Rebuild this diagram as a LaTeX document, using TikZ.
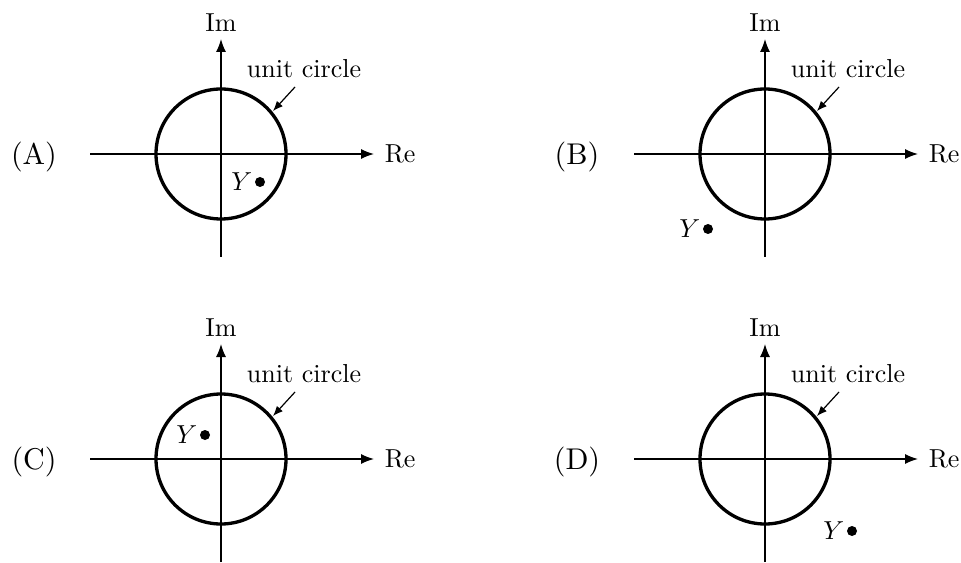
\RequirePackage{fix-cm}
\documentclass[tikz,border=0pt]{standalone}
\usepackage{fontspec}
\usetikzlibrary{arrows.meta,positioning}

\begin{document}
\begin{tikzpicture}[x=0.75pt,y=0.75pt,yscale=-1,xscale=1,
  lbl/.style={inner sep=0.5pt,font=\fontsize{10}{12}\selectfont,scale=1.95},
  plbl/.style={inner sep=0.5pt,font=\fontsize{10}{12}\selectfont,scale=2.25},
  axis/.style={line width=1pt,-{Latex[length=9.75pt,width=7.5pt]}},
  ptr/.style={line width=0.9pt,-{Latex[length=7.5pt,width=6pt]}},
  ucirc/.style={line width=2.5pt},
  ydot/.style={circle,fill,inner sep=0pt,minimum size=7.5pt}]
\useasboundingbox (0,0) rectangle (961,563);

% one panel per answer: name / centre / label x / position of Y
\foreach \p/\cx/\cy/\lx/\yx/\yy in {A/221/154/34/39/28, B/765/154/577/-57/75,
                                     C/221/459/34/-16/-24, D/765/459/577/87/72}{
\begin{scope}[shift={(\cx,\cy)}]
\coordinate (o\p) at (0,0);
\coordinate (w\p) at (-131,0);
\coordinate (e\p) at (153,0);
\coordinate (s\p) at (0,103);
\coordinate (n\p) at (0,-115);

\draw[axis] (w\p) -- (e\p);
\draw[axis] (s\p) -- (n\p);
\draw[ucirc] (o\p) circle [radius=65];

\node[lbl,anchor=west] (re\p) at (162,0) {Re};
\node[lbl] (im\p) at (0,-131) {Im};
\node[lbl] (uc\p) at (83,-85) {unit circle};

\coordinate (ua\p) at (74,-67);
\coordinate (ut\p) at (52,-43);
\draw[ptr] (ua\p) -- (ut\p);

\node[ydot] (y\p) at (\yx,\yy) {};
\node[lbl,left=0.5pt of y\p] (yl\p) {$Y$};

\node[plbl] (lab\p) at (\lx-\cx,3) {(\p)};
\end{scope}
}

\end{tikzpicture}
\end{document}
